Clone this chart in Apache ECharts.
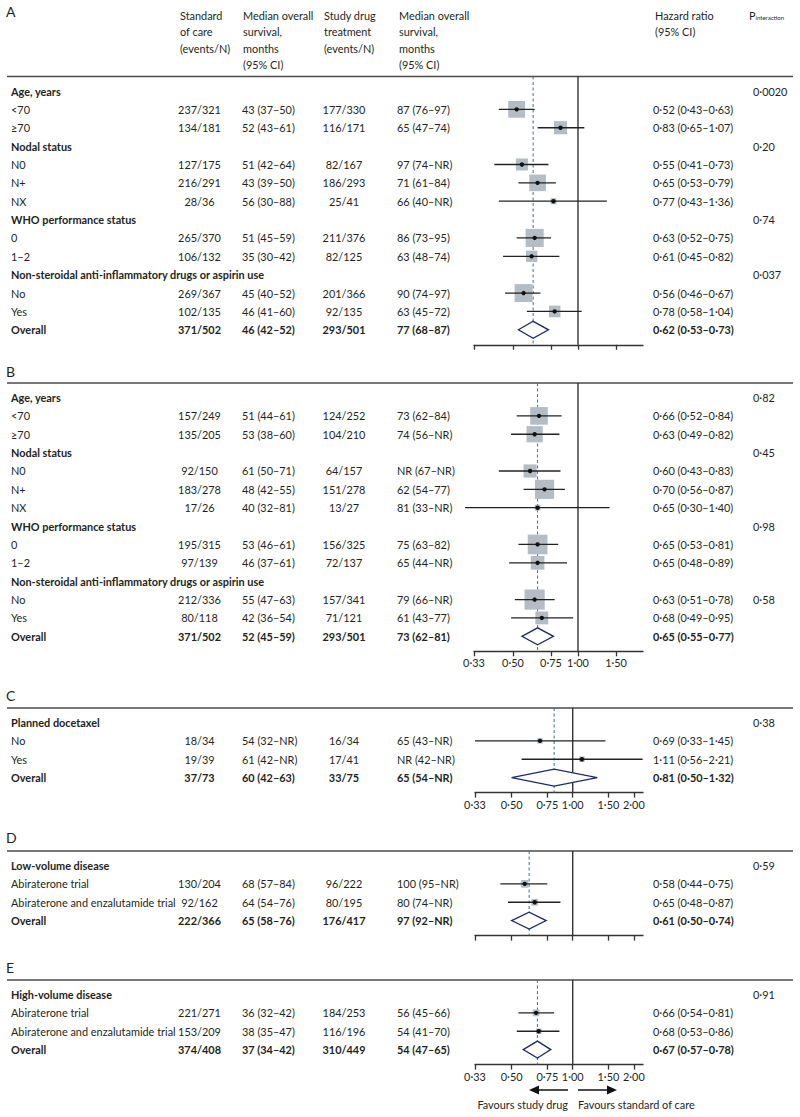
<!DOCTYPE html>
<html><head><meta charset="utf-8">
<script src="https://cdn.jsdelivr.net/npm/echarts@6.0.0/dist/echarts.min.js"></script>
<style>html,body{margin:0;padding:0;background:#fff}#c{width:800px;height:1117px}</style>
</head><body><div id="c"></div>
<script>
// ---------------- DATA ----------------
const panelLetters = ['A', 'B', 'C', 'D', 'E'];

const headerSOC = ['Standard', 'of care', '(events/N)'];
const headerMedian = ['Median overall', 'survival,', 'months', '(95% CI)'];
const headerDrug = ['Study drug', 'treatment', '(events/N)'];
const headerHR = ['Hazard ratio', '(95% CI)'];

// Panel A
const labelsA = ['Age, years', '<70', '≥70', 'Nodal status', 'N0', 'N+', 'NX', 'WHO performance status', '0', '1–2', 'Non-steroidal anti-inflammatory drugs or aspirin use', 'No', 'Yes', 'Overall'];
const typesA = ['h', 'r', 'r', 'h', 'r', 'r', 'r', 'h', 'r', 'r', 'h', 'r', 'r', 'o'];
const socA = [null, '237/321', '134/181', null, '127/175', '216/291', '28/36', null, '265/370', '106/132', null, '269/367', '102/135', '371/502'];
const socMedA = [null, '43 (37–50)', '52 (43–61)', null, '51 (42–64)', '43 (39–50)', '56 (30–88)', null, '51 (45–59)', '35 (30–42)', null, '45 (40–52)', '46 (41–60)', '46 (42–52)'];
const drugA = [null, '177/330', '116/171', null, '82/167', '186/293', '25/41', null, '211/376', '82/125', null, '201/366', '92/135', '293/501'];
const drugMedA = [null, '87 (76–97)', '65 (47–74)', null, '97 (74–NR)', '71 (61–84)', '66 (40–NR)', null, '86 (73–95)', '63 (48–74)', null, '90 (74–97)', '63 (45–72)', '77 (68–87)'];
const hrA = [null, 0.52, 0.83, null, 0.55, 0.65, 0.77, null, 0.63, 0.61, null, 0.56, 0.78, 0.62];
const loA = [null, 0.43, 0.65, null, 0.41, 0.53, 0.43, null, 0.52, 0.45, null, 0.46, 0.58, 0.53];
const hiA = [null, 0.63, 1.07, null, 0.73, 0.79, 1.36, null, 0.75, 0.82, null, 0.67, 1.04, 0.73];
const pA = ['0·0020', null, null, '0·20', null, null, null, '0·74', null, null, '0·037', null, null, null];

// Panel B
const labelsB = labelsA;
const typesB = typesA;
const socB = [null, '157/249', '135/205', null, '92/150', '183/278', '17/26', null, '195/315', '97/139', null, '212/336', '80/118', '371/502'];
const socMedB = [null, '51 (44–61)', '53 (38–60)', null, '61 (50–71)', '48 (42–55)', '40 (32–81)', null, '53 (46–61)', '46 (37–61)', null, '55 (47–63)', '42 (36–54)', '52 (45–59)'];
const drugB = [null, '124/252', '104/210', null, '64/157', '151/278', '13/27', null, '156/325', '72/137', null, '157/341', '71/121', '293/501'];
const drugMedB = [null, '73 (62–84)', '74 (56–NR)', null, 'NR (67–NR)', '62 (54–77)', '81 (33–NR)', null, '75 (63–82)', '65 (44–NR)', null, '79 (66–NR)', '61 (43–77)', '73 (62–81)'];
const hrB = [null, 0.66, 0.63, null, 0.60, 0.70, 0.65, null, 0.65, 0.65, null, 0.63, 0.68, 0.65];
const loB = [null, 0.52, 0.49, null, 0.43, 0.56, 0.30, null, 0.53, 0.48, null, 0.51, 0.49, 0.55];
const hiB = [null, 0.84, 0.82, null, 0.83, 0.87, 1.40, null, 0.81, 0.89, null, 0.78, 0.95, 0.77];
const pB = ['0·82', null, null, '0·45', null, null, null, '0·98', null, null, null, '0·58', null, null];

// Panel C
const labelsC = ['Planned docetaxel', 'No', 'Yes', 'Overall'];
const typesC = ['h', 'r', 'r', 'o'];
const socC = [null, '18/34', '19/39', '37/73'];
const socMedC = [null, '54 (32–NR)', '61 (42–NR)', '60 (42–63)'];
const drugC = [null, '16/34', '17/41', '33/75'];
const drugMedC = [null, '65 (43–NR)', 'NR (42–NR)', '65 (54–NR)'];
const hrC = [null, 0.69, 1.11, 0.81];
const loC = [null, 0.33, 0.56, 0.50];
const hiC = [null, 1.45, 2.21, 1.32];
const pC = ['0·38', null, null, null];

// Panel D
const labelsD = ['Low-volume disease', 'Abiraterone trial', 'Abiraterone and enzalutamide trial', 'Overall'];
const typesD = ['h', 'r', 'r', 'o'];
const socD = [null, '130/204', '92/162', '222/366'];
const socMedD = [null, '68 (57–84)', '64 (54–76)', '65 (58–76)'];
const drugD = [null, '96/222', '80/195', '176/417'];
const drugMedD = [null, '100 (95–NR)', '80 (74–NR)', '97 (92–NR)'];
const hrD = [null, 0.58, 0.65, 0.61];
const loD = [null, 0.44, 0.48, 0.50];
const hiD = [null, 0.75, 0.87, 0.74];
const pD = ['0·59', null, null, null];

// Panel E
const labelsE = ['High-volume disease', 'Abiraterone trial', 'Abiraterone and enzalutamide trial', 'Overall'];
const typesE = ['h', 'r', 'r', 'o'];
const socE = [null, '221/271', '153/209', '374/408'];
const socMedE = [null, '36 (32–42)', '38 (35–47)', '37 (34–42)'];
const drugE = [null, '184/253', '116/196', '310/449'];
const drugMedE = [null, '56 (45–66)', '54 (41–70)', '54 (47–65)'];
const hrE = [null, 0.66, 0.68, 0.67];
const loE = [null, 0.54, 0.53, 0.57];
const hiE = [null, 0.81, 0.86, 0.78];
const pE = ['0·91', null, null, null];

// Axis ticks
const ticksAB = [0.33, 0.5, 0.75, 1, 1.5];
const tickLabelsAB = ['0·33', '0·50', '0·75', '1·00', '1·50'];
const ticksCDE = [0.33, 0.5, 0.75, 1, 1.5, 2];
const tickLabelsCDE = ['0·33', '0·50', '0·75', '1·00', '1·50', '2·00'];
const axisMinHR = 0.33;
const axisMaxAB = 2.0;
const axisMaxCDE = 2.22;

const favoursLeft = 'Favours study drug';
const favoursRight = 'Favours standard of care';

// ---------------- LAYOUT / STYLE ----------------
const FONT = 'Lato';
const FS = 10.9;
const TXT = '#231f20';
const PITCH = 18.37, TOP_PAD = 14.5, BOT_PAD = 15;
const AXIS_RIGHT = 643;
const COL = {label: 11, soc: 199.5, socMed: 242, drug: 344, drugMed: 397, hr: 653, p: 753};
const layout = [
  {lineY: 76.5, letterY: 11, left: 474, showLabels: false, boxK: 0.83},
  {lineY: 383, letterY: 371, left: 474, showLabels: true, boxK: 1.05},
  {lineY: 708, letterY: 695, left: 475, showLabels: true, boxK: 0.93},
  {lineY: 851, letterY: 837, left: 475, showLabels: false, boxK: 0.51},
  {lineY: 980, letterY: 967, left: 475, showLabels: true, boxK: 0.34}
];

const panels = [
  {labels: labelsA, types: typesA, soc: socA, socMed: socMedA, drug: drugA, drugMed: drugMedA, hr: hrA, lo: loA, hi: hiA, p: pA, ticks: ticksAB, tickLabels: tickLabelsAB, max: axisMaxAB},
  {labels: labelsB, types: typesB, soc: socB, socMed: socMedB, drug: drugB, drugMed: drugMedB, hr: hrB, lo: loB, hi: hiB, p: pB, ticks: ticksAB, tickLabels: tickLabelsAB, max: axisMaxAB},
  {labels: labelsC, types: typesC, soc: socC, socMed: socMedC, drug: drugC, drugMed: drugMedC, hr: hrC, lo: loC, hi: hiC, p: pC, ticks: ticksCDE, tickLabels: tickLabelsCDE, max: axisMaxCDE},
  {labels: labelsD, types: typesD, soc: socD, socMed: socMedD, drug: drugD, drugMed: drugMedD, hr: hrD, lo: loD, hi: hiD, p: pD, ticks: ticksCDE, tickLabels: tickLabelsCDE, max: axisMaxCDE},
  {labels: labelsE, types: typesE, soc: socE, socMed: socMedE, drug: drugE, drugMed: drugMedE, hr: hrE, lo: loE, hi: hiE, p: pE, ticks: ticksCDE, tickLabels: tickLabelsCDE, max: axisMaxCDE}
];

function fmt(v) { return v.toFixed(2).replace('.', '·'); }
function numer(s) { return s ? parseInt(s.split('/')[0], 10) : 0; }
function txt(text, x, y, align, bold, size, color) {
  return {type: 'text', silent: true, style: {text: text, x: x, y: y, align: align, verticalAlign: 'middle',
    fontFamily: FONT, fontSize: size || FS, fontWeight: bold ? 'bold' : 'normal', fill: color || TXT}};
}

const chart = echarts.init(document.getElementById('c'), null, {renderer: 'svg'});

const grids = [], xAxes = [], yAxes = [], series = [];
panels.forEach(function (P, k) {
  const L = layout[k];
  const n = P.labels.length;
  grids.push({left: L.left, width: AXIS_RIGHT - L.left, top: L.lineY, height: TOP_PAD + PITCH * (n - 1) + BOT_PAD, containLabel: false});
  const lnTicks = P.ticks.map(Math.log);
  xAxes.push({
    type: 'value', gridIndex: k, min: Math.log(axisMinHR), max: Math.log(P.max), position: 'bottom',
    axisLine: {show: true, onZero: false, lineStyle: {color: '#333', width: 1.3}},
    axisTick: {show: true, customValues: lnTicks, length: 5, inside: false, lineStyle: {color: '#333', width: 1.3}},
    axisLabel: {show: L.showLabels, customValues: lnTicks, margin: 6, fontFamily: FONT, fontSize: FS, color: TXT,
      formatter: function (v) {
        const i = lnTicks.findIndex(function (t) { return Math.abs(t - v) < 1e-6; });
        return i >= 0 ? P.tickLabels[i] : '';
      }},
    splitLine: {show: false}
  });
  yAxes.push({type: 'value', gridIndex: k, inverse: true, min: -TOP_PAD / PITCH, max: (n - 1) + BOT_PAD / PITCH, show: false});

  // reference lines: HR = 1 (solid) and overall HR (dashed)
  const overallHR = P.hr[n - 1];
  series.push({
    type: 'custom', xAxisIndex: k, yAxisIndex: k, silent: true, clip: false, z: 1,
    data: [[Math.log(1), 0], [Math.log(overallHR), 1]],
    renderItem: function (params, api) {
      const cs = params.coordSys;
      const x = api.coord([api.value(0), 0])[0];
      const dashed = api.value(1) === 1;
      return {type: 'line', shape: {x1: x, y1: cs.y, x2: x, y2: cs.y + cs.height},
        style: dashed ? {stroke: '#3f6f8c', lineWidth: 1, lineDash: [3, 2.5]} : {stroke: '#333', lineWidth: 1.4}};
    }
  });

  // rows
  series.push({
    type: 'custom', xAxisIndex: k, yAxisIndex: k, silent: true, clip: false, z: 2,
    data: P.labels.map(function (_, i) { return [0, i]; }),
    renderItem: function (params, api) {
      const i = params.dataIndex;
      const y = api.coord([0, i])[1];
      const t = P.types[i];
      const bold = t !== 'r';
      const ch = [];
      ch.push(txt(P.labels[i], COL.label, y, 'left', bold));
      if (P.soc[i]) ch.push(txt(P.soc[i], COL.soc, y, 'center', t === 'o'));
      if (P.socMed[i]) ch.push(txt(P.socMed[i], COL.socMed, y, 'left', t === 'o'));
      if (P.drug[i]) ch.push(txt(P.drug[i], COL.drug, y, 'center', t === 'o'));
      if (P.drugMed[i]) ch.push(txt(P.drugMed[i], COL.drugMed, y, 'left', t === 'o'));
      if (P.p[i]) ch.push(txt(P.p[i], COL.p, y, 'left', false));
      if (P.hr[i] != null) {
        const xh = api.coord([Math.log(P.hr[i]), i])[0];
        const xl = api.coord([Math.log(P.lo[i]), i])[0];
        const xu = api.coord([Math.log(P.hi[i]), i])[0];
        ch.push(txt(fmt(P.hr[i]) + ' (' + fmt(P.lo[i]) + '–' + fmt(P.hi[i]) + ')', COL.hr, y, 'left', t === 'o'));
        if (t === 'o') {
          const h = 8.5;
          ch.push({type: 'polygon', shape: {points: [[xl, y], [xh, y - h], [xu, y], [xh, y + h]]},
            style: {fill: '#fff', stroke: '#1d2a6a', lineWidth: 1.3}});
        } else {
          const s = L.boxK * Math.sqrt(numer(P.soc[i]) + numer(P.drug[i]));
          ch.push({type: 'rect', shape: {x: xh - s / 2, y: y - s / 2, width: s, height: s}, style: {fill: '#b4bdc6'}});
          ch.push({type: 'line', shape: {x1: xl, y1: y, x2: xu, y2: y}, style: {stroke: '#222', lineWidth: 1.3}});
          ch.push({type: 'circle', shape: {cx: xh, cy: y, r: 2.2}, style: {fill: '#111'}});
        }
      }
      return {type: 'group', children: ch};
    }
  });
});

// static graphics: panel letters, separators, header, arrows
const graphics = [];
layout.forEach(function (L, k) {
  graphics.push({type: 'text', x: 6, y: L.letterY, silent: true,
    style: {text: panelLetters[k], fontFamily: FONT, fontSize: 14, fill: TXT, verticalAlign: 'middle'}});
  graphics.push({type: 'line', silent: true, shape: {x1: 7, y1: L.lineY, x2: 793, y2: L.lineY}, style: {stroke: '#4a4a4a', lineWidth: 1.5}});
});
const HEADER_Y0 = 15, HEADER_DY = 16.5;
[[headerSOC, 180], [headerMedian, 243], [headerDrug, 324], [headerMedian, 399], [headerHR, 655]].forEach(function (h) {
  h[0].forEach(function (line, j) {
    graphics.push({type: 'text', silent: true, x: h[1], y: HEADER_Y0 + j * HEADER_DY,
      style: {text: line, fontFamily: FONT, fontSize: FS, fill: TXT, verticalAlign: 'middle'}});
  });
});
graphics.push({type: 'text', silent: true, x: 749, y: HEADER_Y0,
  style: {text: '{a|P}{b|interaction}', verticalAlign: 'middle', fill: TXT,
    rich: {a: {fontFamily: FONT, fontSize: FS, fill: TXT}, b: {fontFamily: FONT, fontSize: 6, fill: TXT, padding: [5, 0, 0, 0]}}}});
// arrows
const AY = 1090;
graphics.push({type: 'line', silent: true, shape: {x1: 568, y1: AY, x2: 537, y2: AY}, style: {stroke: '#111', lineWidth: 1.5}});
graphics.push({type: 'polygon', silent: true, shape: {points: [[529, AY], [539, AY - 4.5], [539, AY + 4.5]]}, style: {fill: '#111'}});
graphics.push({type: 'line', silent: true, shape: {x1: 578, y1: AY, x2: 609, y2: AY}, style: {stroke: '#111', lineWidth: 1.5}});
graphics.push({type: 'polygon', silent: true, shape: {points: [[617, AY], [607, AY - 4.5], [607, AY + 4.5]]}, style: {fill: '#111'}});
graphics.push({type: 'text', silent: true, x: 568, y: 1104, style: {text: favoursLeft, align: 'right', verticalAlign: 'middle', fontFamily: FONT, fontSize: FS, fill: TXT}});
graphics.push({type: 'text', silent: true, x: 578, y: 1104, style: {text: favoursRight, align: 'left', verticalAlign: 'middle', fontFamily: FONT, fontSize: FS, fill: TXT}});

chart.setOption({
  animation: false,
  backgroundColor: '#fff',
  grid: grids, xAxis: xAxes, yAxis: yAxes, series: series,
  graphic: graphics
});
</script>
</body></html>
